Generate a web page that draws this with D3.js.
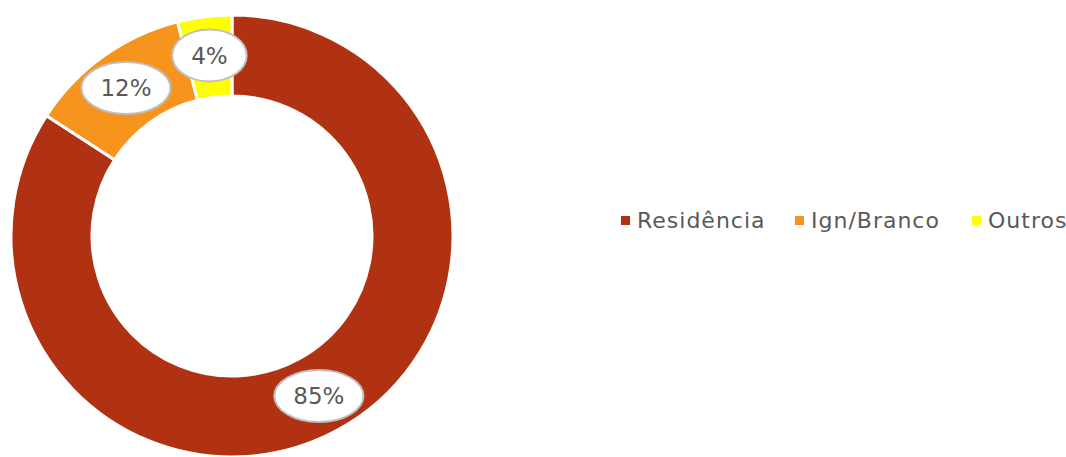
<!DOCTYPE html>
<html>
<head>
<meta charset="utf-8">
<script src="https://cdn.jsdelivr.net/npm/d3@7"></script>
<style>
body { margin: 0; background: #fff; }
svg { display: block; }
</style>
</head>
<body>
<div id="chart"></div>
<script>
// data
var categories = ["Residência", "Ign/Branco", "Outros"];
var values = [85, 12, 4];
var colors = ["#B03213", "#F7941E", "#FFFF00"];

var W = 1066, H = 457;
var cx = 232, cy = 236;
var outerR = 221, innerR = 140, labelR = 182;
var legendX = [621, 795, 972], legendY = 220;

var svg = d3.select("#chart").append("svg").attr("width", W).attr("height", H);

var pie = d3.pie().sort(null).value(function(d) { return d; });
var arcs = pie(values);
var arc = d3.arc().innerRadius(innerR).outerRadius(outerR);
var labelArc = d3.arc().innerRadius(labelR).outerRadius(labelR);

var g = svg.append("g").attr("transform", "translate(" + cx + "," + cy + ")");

g.selectAll("path.slice")
.data(arcs)
.enter().append("path")
.attr("class", "slice")
.attr("d", arc)
.attr("fill", function(d, i) { return colors[i]; })
.attr("stroke", "#fff")
.attr("stroke-width", 3);

// data labels in white ellipses
var lab = g.selectAll("g.lab")
.data(arcs)
.enter().append("g")
.attr("class", "lab")
.attr("transform", function(d) { return "translate(" + labelArc.centroid(d) + ")"; });

lab.append("ellipse")
.attr("fill", "#fff")
.attr("stroke", "#BFBFBF")
.attr("stroke-width", 2);

lab.append("text")
.attr("text-anchor", "middle")
.attr("dy", "0.36em")
.style("font", "23px 'DejaVu Sans', sans-serif")
.attr("fill", "#595959")
.text(function(d) { return d.data + "%"; });

lab.each(function() {
  var t = d3.select(this).select("text").node();
  var w = t.getComputedTextLength();
  d3.select(this).select("ellipse").attr("rx", w / 2 + 19).attr("ry", 26);
});

// legend
var legend = svg.selectAll(".legend")
.data(categories)
.enter().append("g")
.attr("class", "legend")
.attr("transform", function(d, i) { return "translate(" + legendX[i] + "," + legendY + ")"; });

legend.append("rect")
.attr("x", 0)
.attr("y", -4)
.attr("width", 9)
.attr("height", 9)
.attr("fill", function(d, i) { return colors[i]; });

legend.append("text")
.attr("x", 16)
.attr("y", 0)
.attr("dy", "0.36em")
.style("font", "22px 'DejaVu Sans', sans-serif")
.style("letter-spacing", "1px")
.attr("fill", "#595959")
.text(function(d) { return d; });
</script>
</body>
</html>
